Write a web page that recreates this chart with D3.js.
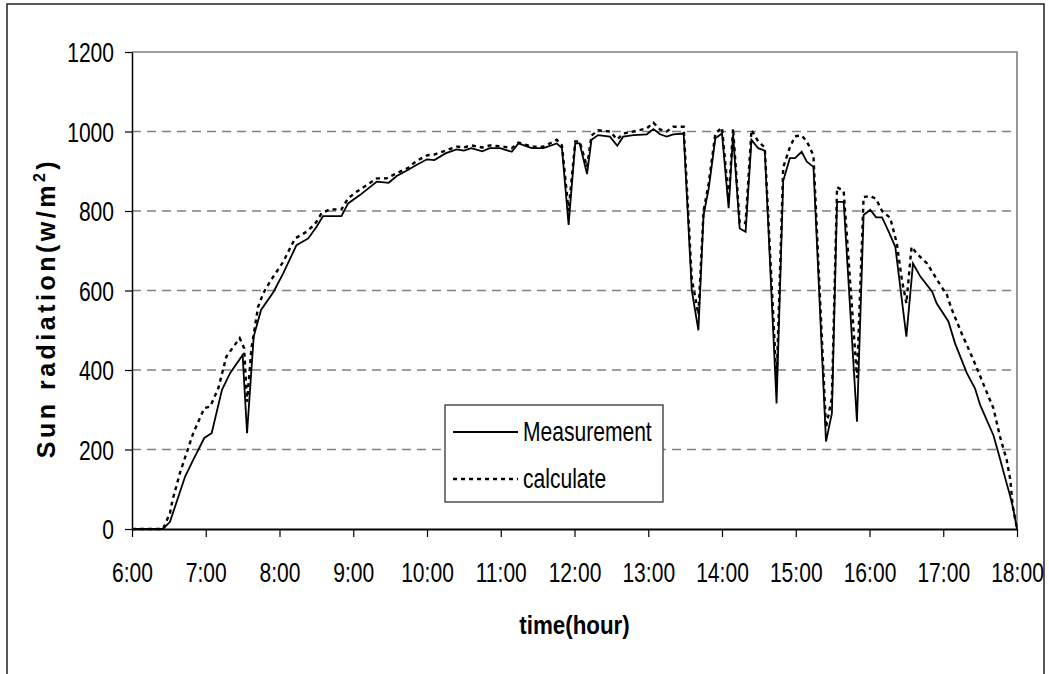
<!DOCTYPE html>
<html>
<head>
<meta charset="utf-8">
<script src="https://cdn.jsdelivr.net/npm/d3@7"></script>
<style>
  body { margin: 0; background: #fff; }
  svg { display: block; }
  text { font-family: 'Liberation Sans', Arial, sans-serif; fill: #000; }
</style>
</head>
<body>
<div class='chart'></div>
<script>

// hours (decimal) and radiation w/m2
var measTime = [6.0, 6.42, 6.515, 6.72, 6.83, 6.98, 7.08, 7.22, 7.33, 7.50, 7.56, 7.65, 7.75, 7.92, 8.05,
  8.23, 8.39, 8.50, 8.59, 8.84, 8.93, 9.09, 9.32, 9.48, 9.59, 9.74, 9.85, 10.0, 10.1, 10.25, 10.4, 10.5,
  10.6, 10.75, 10.85, 10.99, 11.15, 11.24, 11.42, 11.58, 11.76, 11.83, 11.92, 12.01, 12.07, 12.17, 12.23,
  12.32, 12.48, 12.58, 12.66, 12.80, 12.98, 13.07, 13.16, 13.25, 13.34, 13.48, 13.59, 13.68, 13.75, 13.82,
  13.91, 14.00, 14.09, 14.15, 14.24, 14.32, 14.40, 14.49, 14.58, 14.74, 14.83, 14.92, 14.99, 15.08, 15.15,
  15.24, 15.41, 15.49, 15.56, 15.65, 15.83, 15.92, 16.01, 16.09, 16.17, 16.26, 16.35, 16.50, 16.59, 16.69,
  16.85, 16.91, 17.07, 17.16, 17.32, 17.43, 17.50, 17.68, 17.75, 17.84, 17.91, 17.95, 18.0]
var measValue = [0, 0, 18, 132, 174, 229, 241, 350, 392, 438, 241, 484, 551, 597, 643,
  714, 731, 760, 787, 787, 819, 840, 874, 871, 888, 903, 915, 930, 928, 945, 955, 952,
  958, 950, 958, 958, 949, 970, 958, 958, 970, 958, 765, 970, 970, 893, 979,
  991, 987, 964, 987, 991, 993, 1006, 993, 987, 993, 995, 601, 500, 790, 857,
  983, 995, 807, 991, 756, 748, 979, 958, 952, 316, 876, 933, 933, 949, 924,
  911, 220, 291, 823, 823, 270, 790, 803, 784, 784, 748, 710, 484, 668, 635,
  597, 568, 522, 467, 392, 354, 312, 236, 190, 128, 81, 50, 0]

var calcTime = [6.0, 6.42, 6.515, 6.55, 6.65, 6.83, 6.98, 7.06, 7.17, 7.28, 7.46, 7.52, 7.56, 7.62, 7.71,
  7.78, 7.87, 8.05, 8.21, 8.37, 8.48, 8.57, 8.68, 8.84, 8.93, 9.05, 9.32, 9.45, 9.59, 9.74, 9.85, 10.0,
  10.1, 10.25, 10.4, 10.5, 10.6, 10.75, 10.85, 11.0, 11.15, 11.24, 11.42, 11.58, 11.76, 11.83, 11.92, 12.01,
  12.07, 12.17, 12.23, 12.32, 12.48, 12.58, 12.66, 12.80, 12.98, 13.07, 13.16, 13.25, 13.34, 13.48, 13.59,
  13.68, 13.75, 13.82, 13.91, 14.00, 14.09, 14.15, 14.24, 14.32, 14.40, 14.49, 14.58, 14.74, 14.83, 14.92,
  14.99, 15.08, 15.15, 15.24, 15.41, 15.49, 15.56, 15.65, 15.83, 15.92, 16.01, 16.09, 16.17, 16.28, 16.37,
  16.44, 16.50, 16.57, 16.64, 16.78, 16.96, 17.05, 17.11, 17.25, 17.41, 17.55, 17.68, 17.77, 17.86, 17.91,
  17.94, 18.0]
var calcValue = [0, 0, 40, 73, 141, 241, 304, 308, 354, 434, 480, 455, 320, 455, 559,
  593, 622, 672, 731, 748, 767, 794, 804, 804, 832, 849, 882, 882, 895, 908, 925, 940,
  942, 952, 962, 960, 965, 960, 965, 963, 958, 972, 962, 962, 979, 965, 800, 975,
  975, 911, 990, 1003, 1000, 980, 995, 1000, 1008, 1022, 1005, 1000, 1012, 1012, 630,
  540, 800, 870, 995, 1010, 830, 1008, 770, 770, 1004, 975, 960, 370, 910, 960,
  988, 990, 975, 940, 255, 330, 860, 850, 380, 835, 838, 830, 800, 783, 719,
  626, 568, 710, 693, 668, 614, 589, 555, 492, 425, 362, 304, 232, 174, 123,
  60, 0]

var hourTicks = d3.range(6, 19)
var yTicks = [0, 200, 400, 600, 800, 1000, 1200]
var gridValues = [200, 400, 600, 800, 1000]

var width = 1049, height = 674
var svg = d3.select('.chart').append('svg')
  .attr('width', width)
  .attr('height', height)

// the original type is a tall condensed face, squeeze regular text sideways
var sx = 0.78
function narrow(sel, s){
  s = s || sx
  sel.each(function(){
    var t = d3.select(this)
    var x0 = +t.attr('x') || 0
    t.attr('x', x0/s).attr('transform', `scale(${s},1)`)
  })
}

// outer chart frame
svg.append('rect')
  .attr('x', 7).attr('y', 4)
  .attr('width', 1037).attr('height', 690)
  .attr('fill', 'none')
  .attr('stroke', '#222')
  .attr('stroke-width', 1.5)

var x = d3.scaleLinear().domain([6, 18]).range([132, 1017])
var y = d3.scaleLinear().domain([0, 1200]).range([529, 52])

// grid
svg.selectAll('line.grid').data(gridValues).enter().append('line')
  .attr('class', 'grid')
  .attr('x1', x(6)).attr('x2', x(18))
  .attr('y1', d => y(d)).attr('y2', d => y(d))
  .attr('stroke', '#808080')
  .attr('stroke-width', 1.3)
  .attr('stroke-dasharray', '9,6')

// plot area border top / right
svg.append('path')
  .attr('d', `M${x(6)},${y(1200)}H${x(18)}V${y(0)}`)
  .attr('fill', 'none')
  .attr('stroke', '#808080')
  .attr('stroke-width', 1.6)

// axes
var fontSize = 27

var xAxis = d3.axisBottom(x)
  .tickValues(hourTicks)
  .tickFormat(d => d + ':00')
  .tickSizeInner(8)
  .tickSizeOuter(0)

var xAxisG = svg.append('g')
  .attr('transform', `translate(0,${y(0)})`)
  .call(xAxis)
xAxisG.select('.domain').attr('stroke', '#000').attr('stroke-width', 1.8)
xAxisG.selectAll('.tick line').attr('stroke', '#000').attr('stroke-width', 1.2)
xAxisG.selectAll('.tick text')
  .attr('font-family', null)
  .attr('font-size', fontSize)
  .attr('dy', 0)
  .attr('y', 53)
  .call(narrow)

var yAxis = d3.axisLeft(y)
  .tickValues(yTicks)
  .tickFormat(d3.format('d'))
  .tickSizeInner(7)
  .tickSizeOuter(0)
  .tickPadding(11)

var yAxisG = svg.append('g')
  .attr('transform', `translate(${x(6)},0)`)
  .call(yAxis)
yAxisG.select('.domain').attr('stroke', '#000').attr('stroke-width', 1.5)
yAxisG.selectAll('.tick line').attr('stroke', '#000').attr('stroke-width', 1.2)
yAxisG.selectAll('.tick text')
  .attr('font-family', null)
  .attr('font-size', fontSize)
  .attr('dy', '0.36em')
  .call(narrow)

// series
var line = d3.line()
  .x(d => x(d[0]))
  .y(d => y(d[1]))

var calcData = d3.zip(calcTime, calcValue)
var measData = d3.zip(measTime, measValue)

svg.append('path')
  .datum(calcData)
  .attr('d', line)
  .attr('fill', 'none')
  .attr('stroke', '#000')
  .attr('stroke-width', 2.4)
  .attr('stroke-dasharray', '4,4')

svg.append('path')
  .datum(measData)
  .attr('d', line)
  .attr('fill', 'none')
  .attr('stroke', '#000')
  .attr('stroke-width', 1.8)

// legend
var legend = svg.append('g')
legend.append('rect')
  .attr('x', 445).attr('y', 405)
  .attr('width', 218).attr('height', 97)
  .attr('fill', '#fff')
  .attr('stroke', '#333')
  .attr('stroke-width', 1.3)

var legendItems = [
  {name: 'Measurement', dash: null, w: 1.8},
  {name: 'calculate', dash: '4,4', w: 2.4},
]
legendItems.forEach((d, i) => {
  var ly = 432 + i*47
  legend.append('line')
    .attr('x1', 453).attr('x2', 518)
    .attr('y1', ly).attr('y2', ly)
    .attr('stroke', '#000')
    .attr('stroke-width', d.w)
    .attr('stroke-dasharray', d.dash)
  legend.append('text')
    .attr('x', 523).attr('y', ly + 9)
    .attr('font-size', fontSize)
    .text(d.name)
    .call(narrow)
})

// axis titles
svg.append('text')
  .attr('x', (x(6) + x(18))/2)
  .attr('y', 634)
  .attr('text-anchor', 'middle')
  .attr('font-size', 26)
  .attr('font-weight', 'bold')
  .text('time(hour)')
  .call(narrow, 0.86)

var yTitle = svg.append('text')
  .attr('transform', 'translate(55,308) rotate(-90)')
  .attr('text-anchor', 'middle')
  .attr('font-size', 25)
  .attr('font-weight', 'bold')
  .attr('letter-spacing', 3.5)
yTitle.append('tspan').text('Sun radiation(w/m')
yTitle.append('tspan').attr('font-size', 16).attr('dy', -10).text('2')
yTitle.append('tspan').attr('dy', 10).text(')')

</script>
</body>
</html>
